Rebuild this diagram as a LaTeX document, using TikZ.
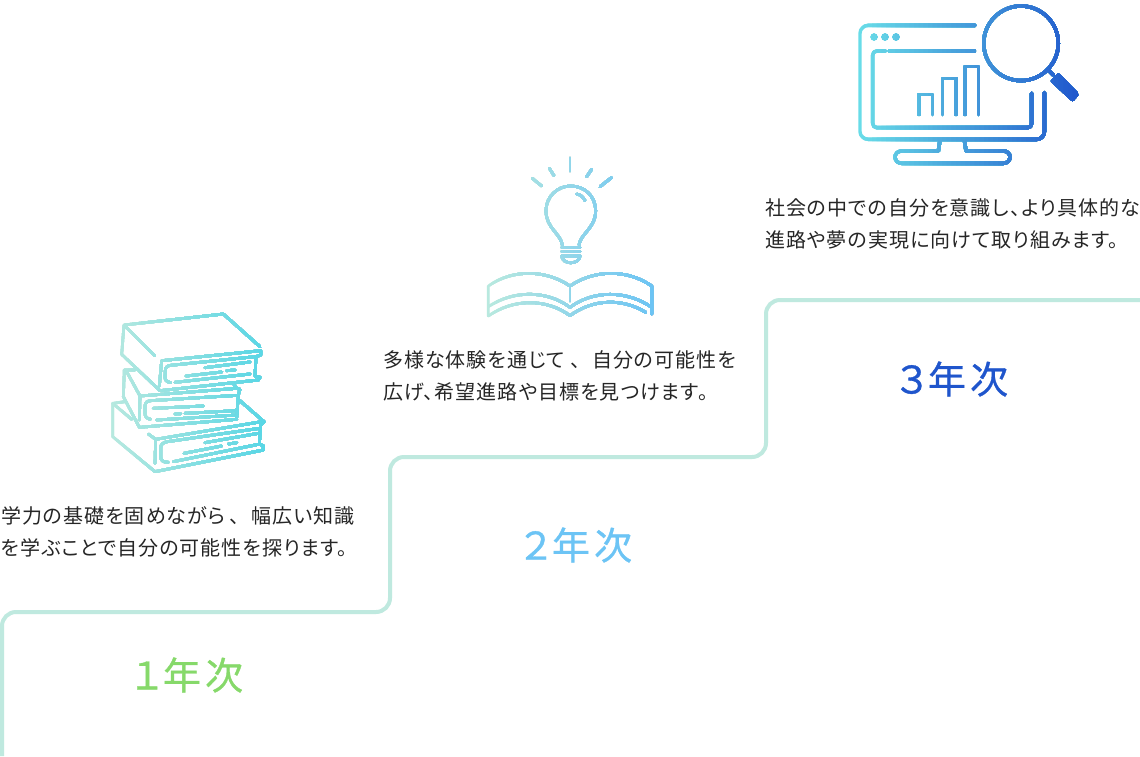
\documentclass[tikz,border=0pt]{standalone}
\usepackage{fontspec}
\newfontfamily\jpfont[RawFeature={+palt},LetterSpace=5]{Noto Sans CJK JP}
\newfontfamily\yearfont[LetterSpace=11,FakeBold=0.8]{Noto Sans CJK JP}
\definecolor{stairline}{HTML}{BFE9DF}
\definecolor{yearone}{HTML}{86D96A}
\definecolor{yeartwo}{HTML}{6CC4F5}
\definecolor{yearthree}{HTML}{1F55CC}
\definecolor{booksleft}{HTML}{B8E9DF}
\definecolor{booksright}{HTML}{56D6E6}
\definecolor{screenleft}{HTML}{68DCE8}
\tikzset{
	px/.style={x=1pt, y=-1pt},
	iconline/.style={draw=iconink, line width=#1, line cap=round, line join=round},
	iconline/.default=2.7pt,
	bodytext/.style={anchor=west, inner sep=0pt, align=left, font=\jpfont\fontsize{20}{32}\selectfont, text=black!85},
	yeartext/.style={inner sep=0pt, font=\yearfont\fontsize{38}{38}\selectfont},
}
% draws #5 again and again, each time clipped further to the right, to get a gradient
\newcommand{\stripicon}[5]{
	\foreach \k in {0,...,47}{
		\pgfmathsetmacro{\stripx}{#1+\k*(#2-#1)/48}
		\pgfmathtruncatemacro{\mix}{\k*100/47}
		\colorlet{iconink}{#4!\mix!#3}
		\begin{scope}
			\clip (\stripx,-5) rectangle (#2,760);
			#5
		\end{scope}
	}
}
\newcommand{\booksicon}{
	\begin{scope}[shift={(90,300)}, x=1/3*1pt, y=-1/3*1pt]
		% top book
		\draw[iconline] (400,42) -- (510,140);
		\draw[iconline] (208,258) -- (215,182) -- (512,152) -- (512,165) -- (498,170) -- (495,228) -- (510,232) -- (505,240) -- (210,272) -- (95,163) -- (102,75) -- (400,42);
		\draw[iconline] (102,75) -- (195,168);
		\draw[iconline] (242,248) .. controls (228,245) and (225,240) .. (225,230) -- (226,212) .. controls (226,202) and (232,197) .. (242,196) -- (495,170);
		\draw[iconline] (345,203) -- (480,186);
		\draw[iconline] (410,212) -- (435,210);
		\draw[iconline] (288,228) -- (395,216);
		\draw[iconline] (255,247) -- (480,222);
		% middle book
		\draw[iconline] (135,210) -- (103,210) -- (100,290) -- (148,382) -- (440,358);
		\draw[iconline] (110,215) -- (150,288) -- (440,265) -- (430,250);
		\draw[iconline] (150,290) -- (148,360);
		\draw[iconline] (440,265) -- (450,268) -- (445,285) -- (440,352);
		\draw[iconline] (182,358) .. controls (170,356) and (165,350) .. (165,340) -- (165,318) .. controls (165,308) and (172,303) .. (182,302) -- (442,286);
		\draw[iconline] (190,325) -- (340,318);
		\draw[iconline] (255,342) -- (272,341);
		\draw[iconline] (285,340) -- (440,332);
		\draw[iconline] (200,360) -- (440,345);
		% bottom book
		\draw[iconline] (105,305) -- (68,310) -- (68,410) -- (195,515) -- (520,450) -- (520,437) -- (508,433) -- (512,375) -- (522,365) -- (445,298);
		\draw[iconline] (68,310) -- (125,358);
		\draw[iconline] (175,402) -- (197,418) -- (515,365);
		\draw[iconline] (197,418) -- (195,490);
		\draw[iconline] (235,487) .. controls (218,487) and (212,480) .. (212,470) -- (212,445) .. controls (212,432) and (220,427) .. (232,425) -- (508,385);
		\draw[iconline] (345,428) -- (505,400);
		\draw[iconline] (415,432) -- (440,428);
		\draw[iconline] (282,460) -- (395,438);
		\draw[iconline] (250,485) -- (510,432);
	\end{scope}
}
\newcommand{\bulbicon}{
	\begin{scope}[shift={(470,150)}, x=1/3*1pt, y=-1/3*1pt]
		% rays
		\draw[iconline] (300,25) -- (300,62);
		\draw[iconline] (238,55) -- (252,77);
		\draw[iconline] (187,85) -- (215,108);
		\draw[iconline] (365,58) -- (350,80);
		\draw[iconline] (424,83) -- (390,110);
		% bulb
		\draw[iconline] (277,285) .. controls (272,250) and (228,235) .. (228,182) .. controls (228,140) and (262,108) .. (302,108) .. controls (345,108) and (377,140) .. (377,182) .. controls (377,235) and (332,250) .. (327,285);
		\draw[iconline] (320,132) .. controls (332,134) and (340,142) .. (345,152);
		\draw[iconline] (275,293) -- (330,293);
		\draw[iconline] (275,305) -- (330,305);
		\draw[iconline] (275,318) -- (330,318) .. controls (328,345) and (277,345) .. (275,318);
		% book
		\draw[iconline] (55,498) -- (55,408) .. controls (130,355) and (230,360) .. (300,408) .. controls (370,360) and (470,355) .. (545,408) -- (545,492);
		\draw[iconline] (300,408) -- (300,452);
		\draw[iconline] (55,470) .. controls (130,420) and (230,420) .. (300,472) .. controls (370,420) and (470,420) .. (545,472);
		\draw[iconline] (55,498) .. controls (130,445) and (230,445) .. (300,497) .. controls (370,445) and (460,445) .. (527,487);
	\end{scope}
}
\newcommand{\screenicon}{
	\begin{scope}[shift={(845,0)}, x=1/3*1pt, y=-1/3*1pt]
		% monitor
		\draw[iconline=3.4pt] (390,76) -- (70,76) to[out=180, in=90] (45,100) -- (45,395) to[out=-90, in=180] (70,418) -- (575,418) to[out=0, in=-90] (598,395) -- (598,278);
		\fill[iconink] (87,111) circle (3.6pt) (120,111) circle (3.6pt) (153,111) circle (3.6pt);
		\draw[iconline=3.4pt] (122,153) -- (95,153) to[out=180, in=90] (83,165) -- (83,370) to[out=-90, in=180] (95,383) -- (548,383) to[out=0, in=-90] (560,370) -- (560,280);
		\draw[iconline=3.4pt] (133,153) -- (388,153);
		\draw[iconline=3.4pt] (222,343) -- (222,283) -- (263,283) -- (263,343);
		\draw[iconline=3.4pt] (293,343) -- (293,235) -- (333,235) -- (333,343);
		\draw[iconline=3.4pt] (360,343) -- (360,200) -- (400,200) -- (400,343);
		\draw[iconline=3.4pt] (285,420) -- (280,453) -- (170,453) to[out=180, in=90] (150,471) to[out=-90, in=180] (170,490) -- (475,490) to[out=0, in=-90] (495,471) to[out=90, in=0] (475,453) -- (363,453) -- (358,420);
		% magnifier
		\draw[iconline=3.4pt] (528,130) circle (37.3pt);
		\draw[iconline=3.4pt] (610,210) -- (625,225);
		\fill[iconink, rounded corners=2pt] (640,218) -- (703,282) -- (683,306) -- (615,243) -- cycle;
	\end{scope}
}

\begin{document}
\begin{tikzpicture}[px]
	\useasboundingbox (0,0) rectangle (1140,756);
	\fill[white] (0,0) rectangle (1140,756);
	% stairs
	\draw[stairline, line width=4pt, rounded corners=14pt] (2,756) -- (2,612) -- (390,612) -- (390,457) -- (766,457) -- (766,300) -- (1140,300);
	% icons
	\stripicon{108}{268}{booksleft}{booksright}{\booksicon}
	\stripicon{486}{654}{booksleft}{yeartwo}{\bulbicon}
	\stripicon{858}{1082}{screenleft}{yearthree}{\screenicon}
	% texts
	\node[bodytext] (firsttext) at (1,532) {学力の基礎を固めながら\hspace{4pt}、\hspace{12pt}幅広い知識\\を学ぶことで自分の可能性を探ります。};
	\node[bodytext] (secondtext) at (383,376) {多様な体験を通じて\hspace{5pt}、\hspace{12pt}自分の可能性を\\広げ、希望進路や目標を見つけます。};
	\node[bodytext] (thirdtext) at (765,224) {社会の中での自分を意識し\hspace{2pt}、\hspace{1pt}より具体的な\\進路や夢の実現に向けて取り組みます。};
	\node[yeartext, text=yearone] (firstyear) at (185.5,675) {１\hspace{-3pt}年次};
	\node[yeartext, text=yeartwo] (secondyear) at (574.5,545) {２\hspace{-3pt}年次};
	\node[yeartext, text=yearthree] (thirdyear) at (950.5,379) {３\hspace{-3pt}年次};
\end{tikzpicture}
\end{document}
